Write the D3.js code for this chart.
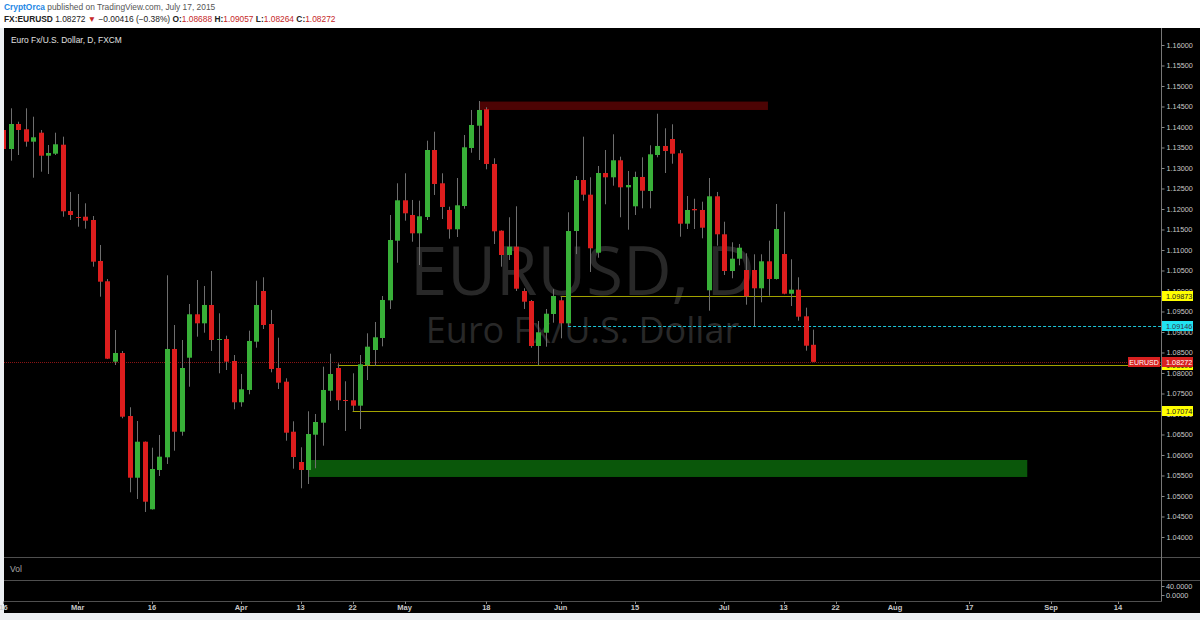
<!DOCTYPE html>
<html>
<head>
<meta charset="utf-8">
<script src="https://cdn.jsdelivr.net/npm/d3@7"></script>
<style>
  body { margin: 0; background: #eceff2; }
  svg { display: block; }
</style>
</head>
<body>
<svg id="chart" width="1200" height="620"></svg>
<script>
// daily EURUSD bars, first bar is 10 sessions before Mar 2 (index 0)
var firstBar = -10;
var openP = [1.13927,1.13463,1.14073,1.13944,1.13642,1.13861,1.13300,1.13349,1.13568,1.11951,
  1.11805,1.11812,1.11732,1.10732,1.10237,1.08276,1.08488,1.06951,1.05446,1.06324,
  1.04676,1.05634,1.05944,1.08586,1.06568,1.08373,1.09432,1.09212,1.09659,1.08805,
  1.08829,1.08293,1.07286,1.07586,1.08764,1.10000,1.09195,1.08122,1.07788,1.06568,
  1.05829,1.05634,1.06495,1.06788,1.07568,1.08122,1.07342,1.07334,1.07203,1.08195,
  1.08561,1.08854,1.09773,1.11227,1.12212,1.11854,1.11407,1.11805,1.13439,1.12627,
  1.11976,1.11505,1.12073,1.13488,1.14032,1.14432,1.13098,1.11471,1.10878,1.11081,
  1.10000,1.09756,1.08659,1.08983,1.09439,1.09773,1.09212,1.11463,1.12707,1.12349,
  1.10934,1.12878,1.12773,1.13188,1.12529,1.12066,1.12781,1.12439,1.13317,1.13537,
  1.13707,1.13359,1.11642,1.12000,1.11976,1.10017,1.12310,1.11383,1.10488,1.10788,
  1.10512,1.10512,1.10066,1.10724,1.10293,1.10902,1.09934,1.10032,1.09383,1.08688];
var highP = [1.13976,1.14456,1.14129,1.14456,1.14251,1.13927,1.13561,1.13861,1.13764,1.12415,
  1.12366,1.12139,1.11829,1.11122,1.10293,1.09049,1.08537,1.07164,1.06829,1.06330,
  1.06178,1.06488,1.10383,1.09171,1.08805,1.09683,1.10268,1.10122,1.10488,1.09456,
  1.08910,1.08439,1.07976,1.09032,1.10251,1.10334,1.09537,1.08861,1.07871,1.06822,
  1.06188,1.07066,1.07000,1.08154,1.08471,1.08237,1.07798,1.07993,1.08439,1.08968,
  1.09244,1.09878,1.11854,1.12627,1.12871,1.12220,1.12203,1.13666,1.13885,1.12871,
  1.12056,1.12756,1.13805,1.14415,1.14634,1.14481,1.13237,1.11480,1.11798,1.12066,
  1.10066,1.09781,1.09268,1.09561,1.10042,1.09861,1.11920,1.12805,1.13764,1.12773,
  1.13049,1.13439,1.13822,1.13276,1.12927,1.12910,1.13261,1.13554,1.14324,1.13968,
  1.14066,1.13439,1.12317,1.12251,1.12178,1.12756,1.12415,1.11690,1.11188,1.11146,
  1.10920,1.10895,1.10895,1.11227,1.12122,1.11934,1.10773,1.10334,1.09593,1.09057];
var lowP = [1.13439,1.13178,1.13317,1.13520,1.12763,1.12910,1.12854,1.13317,1.11812,1.11732,
  1.11568,1.11520,1.10593,1.09861,1.08340,1.08195,1.06895,1.05090,1.04927,1.04610,
  1.04670,1.05488,1.05781,1.06105,1.06471,1.07666,1.08886,1.08983,1.08537,1.07993,
  1.08073,1.07115,1.07178,1.07481,1.08617,1.09073,1.08017,1.07610,1.06349,1.05666,
  1.05188,1.05293,1.05676,1.06227,1.07317,1.07098,1.06586,1.07074,1.06634,1.07829,
  1.08171,1.08650,1.09561,1.10690,1.11715,1.11202,1.10634,1.11732,1.12342,1.11756,
  1.11276,1.11317,1.12007,1.13373,1.13195,1.12968,1.11146,1.10593,1.10756,1.10000,
  1.09561,1.08617,1.08190,1.08642,1.09227,1.08846,1.09146,1.10900,1.12202,1.10463,
  1.10812,1.12115,1.12568,1.11798,1.11495,1.11854,1.12017,1.12017,1.13261,1.12878,
  1.13105,1.11324,1.11512,1.11512,1.11285,1.09520,1.11105,1.10390,1.10310,1.10627,
  1.09666,1.09146,1.09724,1.09886,1.10280,1.09920,1.09634,1.09276,1.08544,1.08264];
var closeP = [1.13463,1.14073,1.13927,1.13642,1.13749,1.13300,1.13366,1.13578,1.11944,1.11854,
  1.11788,1.11715,1.10715,1.10227,1.08349,1.08488,1.06934,1.05446,1.06324,1.04861,
  1.05659,1.05959,1.08586,1.06568,1.08122,1.09432,1.09212,1.09659,1.08805,1.08829,
  1.08276,1.07286,1.07603,1.08781,1.09659,1.09171,1.08098,1.07764,1.06544,1.05951,
  1.05634,1.06512,1.06805,1.07586,1.07976,1.07334,1.07317,1.07203,1.08212,1.08642,
  1.08871,1.09781,1.11244,1.12212,1.11895,1.11407,1.11822,1.13439,1.12610,1.12049,
  1.11505,1.12090,1.13505,1.14049,1.14415,1.13098,1.11456,1.10878,1.11081,1.10056,
  1.09739,1.08659,1.08993,1.09446,1.09878,1.09212,1.11463,1.12707,1.12349,1.11042,
  1.12878,1.12773,1.13188,1.12529,1.12585,1.12781,1.12446,1.13334,1.13537,1.13415,
  1.13349,1.11642,1.11976,1.11968,1.11544,1.12310,1.11383,1.10488,1.10788,1.11056,
  1.09871,1.10066,1.10724,1.10293,1.11512,1.09934,1.10032,1.09373,1.08666,1.08272];

// time axis (bar index -> label)
var tickBars = [-10, 0, 10, 22, 30, 37, 44, 55, 65, 75, 87, 95, 102, 110, 120, 131, 140];
var tickLabels = ["16", "Mar", "16", "Apr", "13", "22", "May", "18", "Jun", "15", "Jul", "13", "22", "Aug", "17", "Sep", "14"];

// drawings
var levelPrice = [1.09873, 1.08195, 1.07074, 1.09146];
var levelFrom = [65, 35, 37, 66];
var levelType = ["hline", "hline", "hline", "pivot"];
var zoneHigh = [1.14620, 1.05878];
var zoneLow = [1.14415, 1.05464];
var zoneFrom = [54, 31];
var zoneTo = [92.9, 127.8];
var zoneType = ["supply", "demand"];
var lastPrice = 1.08272;
var volTickLabels = ["40.0000", "0.0000"];

var svg = d3.select("#chart");
var W = 1200, left = 4, paneTop = 28, paneBottom = 557.5, axisX = 1161;
var sans = "Liberation Sans, Arial, sans-serif";

var x = d3.scaleLinear().domain([0, 140]).range([77.7, 1117.9]);
var y = d3.scaleLinear().domain([1.035, 1.164146]).range([paneBottom, paneTop]);
var fmt = d3.format(".5f");

// header
svg.append("rect").attr("x", 0).attr("y", 0).attr("width", W).attr("height", paneTop).attr("fill", "#fff");
var h1 = svg.append("text").attr("x", 4).attr("y", 10).style("font-family", sans).style("font-size", "8.4px").attr("fill", "#555");
h1.append("tspan").attr("fill", "#1e88e5").style("font-weight", "bold").text("CryptOrca");
h1.append("tspan").text(" published on TradingView.com, July 17, 2015");

var h2 = svg.append("text").attr("x", 4).attr("y", 22).style("font-family", sans).style("font-size", "8.4px").attr("fill", "#222");
h2.append("tspan").style("font-weight", "bold").text("FX:EURUSD");
h2.append("tspan").text(" " + fmt(lastPrice) + " ");
h2.append("tspan").attr("fill", "#c62828").text("\u25BC");
h2.append("tspan").text(" \u22120.00416 (\u22120.38%) ");
[["O:", openP[openP.length - 1]], ["H:", highP[highP.length - 1]], ["L:", lowP[lowP.length - 1]], ["C:", closeP[closeP.length - 1]]].forEach(function(d) {
    h2.append("tspan").style("font-weight", "bold").text(d[0]);
    h2.append("tspan").attr("fill", "#c62828").text(fmt(d[1]) + " ");
});

// chart background
svg.append("rect").attr("x", left).attr("y", paneTop).attr("width", W - left).attr("height", 613 - paneTop).attr("fill", "#000");

svg.append("defs").append("clipPath").attr("id", "pane")
    .append("rect").attr("x", left).attr("y", paneTop).attr("width", axisX - left).attr("height", paneBottom - paneTop);

var pane = svg.append("g").attr("clip-path", "url(#pane)");

// watermark
pane.append("text").attr("x", (left + axisX) / 2).attr("y", 295).attr("text-anchor", "middle")
    .style("font-family", "Open Sans, sans-serif").style("font-size", "67px").attr("fill", "#282828").text("EURUSD, D");
pane.append("text").attr("x", (left + axisX) / 2).attr("y", 343).attr("text-anchor", "middle")
    .style("font-family", "Open Sans, sans-serif").style("font-size", "36px").attr("fill", "#282828").text("Euro Fx/U.S. Dollar");

// zones
var zoneColor = { supply: "#4c0404", demand: "#0a570a" };
zoneType.forEach(function(t, i) {
    pane.append("rect")
        .attr("x", x(zoneFrom[i])).attr("y", y(zoneHigh[i]))
        .attr("width", x(zoneTo[i]) - x(zoneFrom[i]))
        .attr("height", y(zoneLow[i]) - y(zoneHigh[i]))
        .attr("fill", zoneColor[t]);
});

// last price dotted line
pane.append("line").attr("x1", left).attr("x2", axisX)
    .attr("y1", Math.round(y(lastPrice)) + 0.5).attr("y2", Math.round(y(lastPrice)) + 0.5)
    .attr("stroke", "#8a1414").attr("stroke-dasharray", "1,1");

// horizontal levels
levelType.forEach(function(t, i) {
    var yy = Math.round(y(levelPrice[i])) + 0.5;
    pane.append("line").attr("x1", x(levelFrom[i])).attr("x2", axisX)
        .attr("y1", yy).attr("y2", yy)
        .attr("stroke", t == "pivot" ? "#1cc6d8" : "#a3a300")
        .attr("stroke-dasharray", t == "pivot" ? "3,2" : null);
});

// candles
var bars = openP.map(function(o, i) {
    return { i: firstBar + i, o: o, h: highP[i], l: lowP[i], c: closeP[i] };
});
var cg = pane.append("g");
cg.selectAll("line.wick").data(bars).enter().append("line")
    .attr("class", "wick")
    .attr("x1", function(d) { return Math.round(x(d.i)) + 0.5; })
    .attr("x2", function(d) { return Math.round(x(d.i)) + 0.5; })
    .attr("y1", function(d) { return y(d.h); })
    .attr("y2", function(d) { return y(d.l); })
    .attr("stroke", "#6e6e6e");
cg.selectAll("rect.body").data(bars).enter().append("rect")
    .attr("class", "body")
    .attr("x", function(d) { return Math.round(x(d.i)) - 2; })
    .attr("width", 5)
    .attr("y", function(d) { return y(Math.max(d.o, d.c)); })
    .attr("height", function(d) { return Math.max(1, Math.abs(y(d.o) - y(d.c))); })
    .attr("fill", function(d) { return d.c >= d.o ? "#38b038" : "#dd1d1d"; });

// chart title
svg.append("text").attr("x", 11).attr("y", 43)
    .style("font-family", sans).style("font-size", "8.4px")
    .attr("fill", "#e0e0e0").text("Euro Fx/U.S. Dollar, D, FXCM");

// pane separators and axes lines
var grid = "#4f4f4f";
[557.5, 580.5].forEach(function(v) {
    svg.append("line").attr("x1", left).attr("x2", W).attr("y1", v).attr("y2", v).attr("stroke", grid);
});
svg.append("line").attr("x1", left).attr("x2", axisX + 0.5).attr("y1", 601.5).attr("y2", 601.5).attr("stroke", grid);
svg.append("line").attr("x1", axisX + 0.5).attr("x2", axisX + 0.5).attr("y1", paneTop).attr("y2", 601.5).attr("stroke", "#777");

svg.append("text").attr("x", 10).attr("y", 572)
    .style("font-family", sans).style("font-size", "8.5px")
    .attr("fill", "#aaa").text("Vol");

// price axis
var yAxis = d3.axisRight(y)
    .tickValues(d3.range(1.04, 1.16001, 0.005))
    .tickFormat(fmt)
    .tickSize(3)
    .tickPadding(2);
var ya = svg.append("g").attr("transform", "translate(" + (axisX + 0.5) + ",0)").call(yAxis);
ya.select(".domain").remove();
ya.selectAll("line").attr("stroke", "#888");
ya.selectAll("text").attr("fill", "#c8c8c8")
    .style("font-family", sans).style("font-size", "7.3px");

// volume pane labels
var vol = svg.append("g");
vol.append("clipPath").attr("id", "volclip").append("rect").attr("x", axisX).attr("y", 582).attr("width", 40).attr("height", 19);
vol.selectAll("text").data(volTickLabels).enter().append("text")
    .attr("clip-path", "url(#volclip)")
    .attr("x", axisX + 5).attr("y", function(d, i) { return i == 0 ? 589 : 598; })
    .style("font-family", sans).style("font-size", "7.3px")
    .attr("fill", "#c8c8c8").text(function(d) { return d; });
vol.selectAll("line").data(volTickLabels).enter().append("line")
    .attr("x1", axisX + 0.5).attr("x2", axisX + 3.5)
    .attr("y1", function(d, i) { return i == 0 ? 586.5 : 595.5; })
    .attr("y2", function(d, i) { return i == 0 ? 586.5 : 595.5; })
    .attr("stroke", "#888");

// axis price labels
function priceLabel(price, bg, fg) {
    var yy = Math.round(y(price));
    svg.append("rect").attr("x", axisX + 1).attr("y", yy - 5).attr("width", 31).attr("height", 10).attr("fill", bg);
    svg.append("text").attr("x", axisX + 5).attr("y", yy + 3)
        .style("font-family", sans).style("font-size", "7.3px")
        .attr("fill", fg).text(fmt(price));
}
levelType.forEach(function(t, i) {
    priceLabel(levelPrice[i], t == "pivot" ? "#21e3f2" : "#ffff00", t == "pivot" ? "#334" : "#222");
});
priceLabel(lastPrice, "#d8201f", "#fff");
var ly = Math.round(y(lastPrice));
svg.append("rect").attr("x", axisX - 33).attr("y", ly - 5).attr("width", 32).attr("height", 10).attr("fill", "#d8201f");
svg.append("text").attr("x", axisX - 17).attr("y", ly + 3).attr("text-anchor", "middle")
    .style("font-family", sans).style("font-size", "7px")
    .attr("fill", "#fff").text("EURUSD");

// time axis
var tg = svg.append("g");
tg.selectAll("text").data(tickBars).enter().append("text")
    .attr("x", function(d) { return x(d); })
    .attr("y", 610)
    .attr("text-anchor", "middle")
    .style("font-family", sans).style("font-size", "7.5px").style("font-weight", "bold")
    .attr("fill", "#c8c8c8")
    .text(function(d, i) { return tickLabels[i]; });
tg.selectAll("line").data(tickBars).enter().append("line")
    .attr("x1", function(d) { return Math.round(x(d)) + 0.5; })
    .attr("x2", function(d) { return Math.round(x(d)) + 0.5; })
    .attr("y1", 601.5).attr("y2", 604)
    .attr("stroke", "#888");
</script>
</body>
</html>
